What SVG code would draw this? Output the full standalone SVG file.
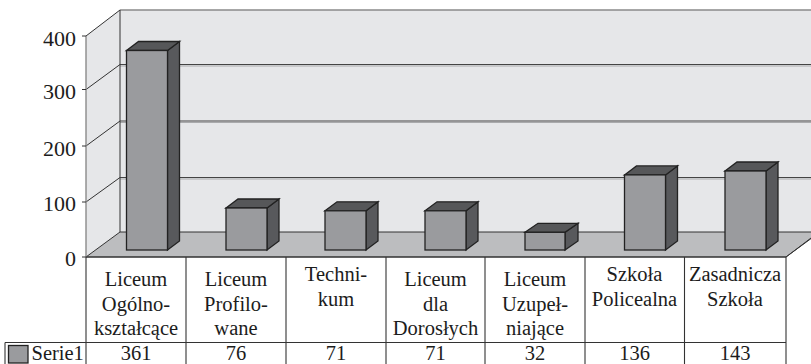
<svg xmlns="http://www.w3.org/2000/svg" width="811" height="364" viewBox="0 0 811 364" font-family="'Liberation Serif', Tinos, 'Noto Serif', 'DejaVu Serif', FreeSerif, Times, 'Times New Roman', serif">
<style>
  .wall{fill:#e6e7e9;stroke:none}
  .floor{fill:#bcbdbf;stroke:#333;stroke-width:1}
  .grid{stroke:#444;stroke-width:1.2;fill:none}
  .gridsh{stroke:#a9aaac;stroke-width:1;fill:none}
  .edge{stroke:#333;stroke-width:1;fill:none}
  .edgel{stroke:#8a8a8a;stroke-width:1.4;fill:none}
  .front{fill:#9a9b9e;stroke:#222;stroke-width:1.3}
  .top{fill:#565759;stroke:#222;stroke-width:1.3}
  .side{fill:#58595c;stroke:#222;stroke-width:1.3}
  .tab{stroke:#333;stroke-width:1.1;fill:none}
  text{font-family:'Liberation Serif',Tinos,'Noto Serif','DejaVu Serif',FreeSerif,Times,'Times New Roman',serif;fill:#1c1c1c}
  .ax{font-size:22px;text-anchor:end}
  .lb{font-size:20.5px;text-anchor:middle}
  .lg{font-size:20.5px}
</style>
<rect width="811" height="364" fill="#fff"/>
<g id="walls">
  <rect class="wall" x="120" y="10" width="700" height="222"/>
  <polygon class="wall" points="86,36 120,10 120,232 86,257"/>
  <polygon class="floor" points="86,257 120,232 820,232 786,257"/>
</g>
<g id="gridlines">
  <line class="gridsh" x1="120" y1="66" x2="811" y2="66"/>
  <line class="gridsh" x1="120" y1="122.5" x2="811" y2="122.5"/>
  <line class="gridsh" x1="120" y1="179" x2="811" y2="179"/>
  <line class="grid" x1="120" y1="64.5" x2="811" y2="64.5"/>
  <line class="grid" x1="120" y1="121" x2="811" y2="121"/>
  <line class="grid" x1="120" y1="177.5" x2="811" y2="177.5"/>
  <line class="edgel" x1="120" y1="10" x2="811" y2="10"/>
  <line class="edge" x1="120" y1="10" x2="120" y2="232"/>
  <line class="edge" x1="86" y1="36" x2="120" y2="10"/>
  <line class="edge" x1="86" y1="89.5" x2="120" y2="64.5"/>
  <line class="edge" x1="86" y1="146" x2="120" y2="121"/>
  <line class="edge" x1="86" y1="202" x2="120" y2="177.5"/>
  <line class="edge" x1="786" y1="257" x2="811" y2="238"/>
  <line class="edgel" x1="86" y1="36" x2="86" y2="257"/>
  <line class="edge" x1="82" y1="36" x2="86" y2="36"/>
  <line class="edge" x1="82" y1="89.5" x2="86" y2="89.5"/>
  <line class="edge" x1="82" y1="146" x2="86" y2="146"/>
  <line class="edge" x1="82" y1="202" x2="86" y2="202"/>
  <line class="edge" x1="82" y1="257" x2="86" y2="257"/>
</g>
<g id="axis-labels">
  <text class="ax" x="76" y="45.5">400</text>
  <text class="ax" x="76" y="99">300</text>
  <text class="ax" x="76" y="155.5">200</text>
  <text class="ax" x="76" y="211">100</text>
  <text class="ax" x="76" y="266">0</text>
</g>
<g id="bar1">
  <polygon class="side" points="167.5,50.5 179.5,41.5 179.5,241 167.5,250"/>
  <polygon class="top" points="126.5,50.5 138.5,41.5 179.5,41.5 167.5,50.5"/>
  <rect class="front" x="126.5" y="50.5" width="41" height="199.5"/>
</g>
<g id="bar2">
  <polygon class="side" points="267,208 279,199 279,241 267,250"/>
  <polygon class="top" points="226,208 238,199 279,199 267,208"/>
  <rect class="front" x="226" y="208" width="41" height="42"/>
</g>
<g id="bar3">
  <polygon class="side" points="366,210.8 378,201.8 378,241 366,250"/>
  <polygon class="top" points="325,210.8 337,201.8 378,201.8 366,210.8"/>
  <rect class="front" x="325" y="210.8" width="41" height="39.2"/>
</g>
<g id="bar4">
  <polygon class="side" points="466,210.8 478,201.8 478,241 466,250"/>
  <polygon class="top" points="425,210.8 437,201.8 478,201.8 466,210.8"/>
  <rect class="front" x="425" y="210.8" width="41" height="39.2"/>
</g>
<g id="bar5">
  <polygon class="side" points="565,232.3 578,223.3 578,241 565,250"/>
  <polygon class="top" points="525,232.3 538,223.3 578,223.3 565,232.3"/>
  <rect class="front" x="525" y="232.3" width="40" height="17.7"/>
</g>
<g id="bar6">
  <polygon class="side" points="665.5,174.9 677.5,165.9 677.5,241 665.5,250"/>
  <polygon class="top" points="624.5,174.9 636.5,165.9 677.5,165.9 665.5,174.9"/>
  <rect class="front" x="624.5" y="174.9" width="41" height="75.1"/>
</g>
<g id="bar7">
  <polygon class="side" points="766,171 778,162 778,241 766,250"/>
  <polygon class="top" points="725,171 737,162 778,162 766,171"/>
  <rect class="front" x="725" y="171" width="41" height="79"/>
</g>
<g id="table">
  <line class="tab" x1="86" y1="257" x2="786" y2="257"/>
  <line class="tab" x1="5" y1="342.5" x2="786" y2="342.5"/>
  <line class="tab" x1="5" y1="342.5" x2="5" y2="364"/>
  <line class="tab" x1="86" y1="257" x2="86" y2="364"/>
  <line class="tab" x1="186" y1="257" x2="186" y2="364"/>
  <line class="tab" x1="286" y1="257" x2="286" y2="364"/>
  <line class="tab" x1="386" y1="257" x2="386" y2="364"/>
  <line class="tab" x1="485" y1="257" x2="485" y2="364"/>
  <line class="tab" x1="585" y1="257" x2="585" y2="364"/>
  <line class="tab" x1="684.5" y1="257" x2="684.5" y2="364"/>
  <line class="tab" x1="786" y1="257" x2="786" y2="364"/>
</g>
<g id="legend">
  <rect class="front" x="8.5" y="345.5" width="19.5" height="17.5"/>
  <text class="lg" x="31.5" y="359.5">Serie1</text>
</g>
<g id="cat1">
  <text class="lb" x="136" y="286">Liceum</text>
  <text class="lb" x="136" y="310.5">Ogólno-</text>
  <text class="lb" x="136" y="335">kształcące</text>
  <text class="lb" x="136" y="359.5">361</text>
</g>
<g id="cat2">
  <text class="lb" x="236" y="286">Liceum</text>
  <text class="lb" x="236" y="310.5">Profilo-</text>
  <text class="lb" x="236" y="335">wane</text>
  <text class="lb" x="236" y="359.5">76</text>
</g>
<g id="cat3">
  <text class="lb" x="336" y="281">Techni-</text>
  <text class="lb" x="336" y="306">kum</text>
  <text class="lb" x="336" y="359.5">71</text>
</g>
<g id="cat4">
  <text class="lb" x="435.5" y="286">Liceum</text>
  <text class="lb" x="435.5" y="310.5">dla</text>
  <text class="lb" x="435.5" y="335">Dorosłych</text>
  <text class="lb" x="435.5" y="359.5">71</text>
</g>
<g id="cat5">
  <text class="lb" x="535" y="286">Liceum</text>
  <text class="lb" x="535" y="310.5">Uzupeł-</text>
  <text class="lb" x="535" y="335">niające</text>
  <text class="lb" x="535" y="359.5">32</text>
</g>
<g id="cat6">
  <text class="lb" x="634.5" y="281">Szkoła</text>
  <text class="lb" x="634.5" y="306">Policealna</text>
  <text class="lb" x="634.5" y="359.5">136</text>
</g>
<g id="cat7">
  <text class="lb" x="735" y="281">Zasadnicza</text>
  <text class="lb" x="735" y="306">Szkoła</text>
  <text class="lb" x="735" y="359.5">143</text>
</g>
</svg>
